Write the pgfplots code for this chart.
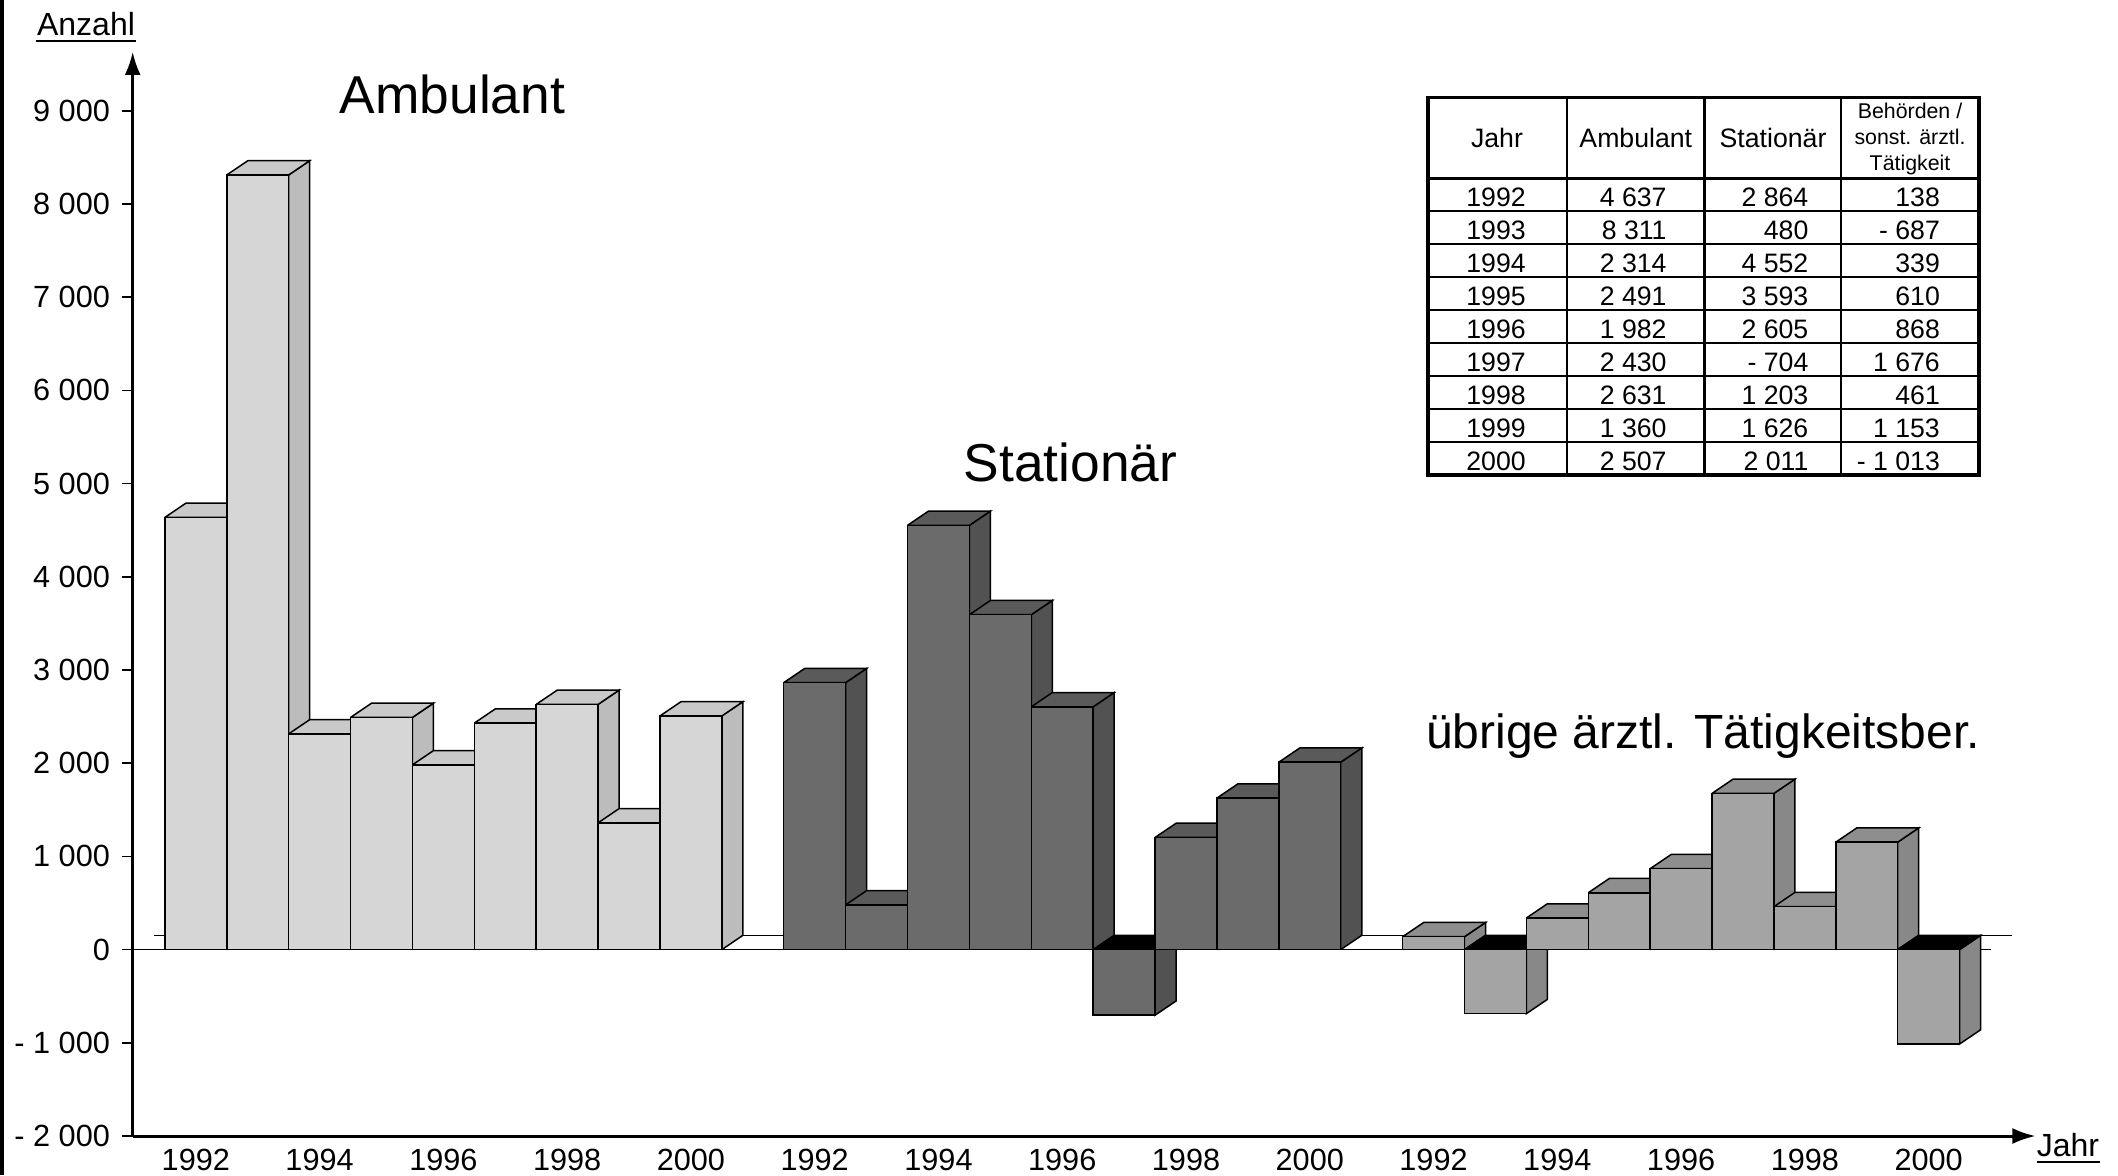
\documentclass[border=0pt]{standalone}
\usepackage{pgfplots}
\pgfplotsset{compat=1.18}
\usepackage{pgfplotstable}
\usetikzlibrary{arrows.meta}
\usepackage{fontspec}
\setmainfont{Liberation Sans}

\definecolor{ambF}{HTML}{D6D6D6}
\definecolor{ambS}{HTML}{BCBCBC}
\definecolor{ambT}{HTML}{C9C9C9}
\definecolor{staF}{HTML}{6B6B6B}
\definecolor{staS}{HTML}{525252}
\definecolor{staT}{HTML}{5A5A5A}
\definecolor{othF}{HTML}{A4A4A4}
\definecolor{othS}{HTML}{888888}
\definecolor{othT}{HTML}{8E8E8E}

% Ambulant
\pgfplotstableread{
x v
0 4637
1 8311
2 2314
3 2491
4 1982
5 2430
6 2631
7 1360
8 2507
}\ambdata
% Stationaer
\pgfplotstableread{
x v
10 2864
11 480
12 4552
13 3593
14 2605
15 -704
16 1203
17 1626
18 2011
}\stadata
% uebrige aerztl. Taetigkeitsber.
\pgfplotstableread{
x v
20 138
21 -687
22 339
23 610
24 868
25 1676
26 461
27 1153
28 -1013
}\othdata

\def\dX{0.34}
\def\dY{153}

\newcommand\threedbar[5]{%
  \pgfmathsetmacro\xa{#1-0.5}%
  \pgfmathsetmacro\xb{#1+0.5}%
  \pgfmathsetmacro\xc{#1+0.5+\dX}%
  \pgfmathsetmacro\xd{#1-0.5+\dX}%
  \pgfmathsetmacro\vv{#2}%
  \pgfmathsetmacro\vt{max(#2,0)}%
  \pgfmathsetmacro\vtb{max(#2,0)+\dY}%
  \pgfmathsetmacro\vb{#2+\dY}%
  \pgfmathtruncatemacro\isneg{(#2<0)?1:0}%
  \ifnum\isneg=1 \def\tc{black}\else\def\tc{#5}\fi
  \edef\doit{%
    \noexpand\addplot[barface, fill=#4] coordinates {(\xb,0) (\xc,\dY) (\xc,\vb) (\xb,\vv) (\xb,0)};
    \noexpand\addplot[barface, fill=\tc] coordinates {(\xa,\vt) (\xb,\vt) (\xc,\vtb) (\xd,\vtb) (\xa,\vt)};
    \noexpand\addplot[barface, fill=#3] coordinates {(\xa,0) (\xb,0) (\xb,\vv) (\xa,\vv) (\xa,0)};
  }\doit
}
\newcommand\drawseries[4]{%
  \pgfplotsforeachungrouped \i in {0,...,8}{%
    \pgfplotstablegetelem{\i}{x}\of#1\let\bx\pgfplotsretval
    \pgfplotstablegetelem{\i}{v}\of#1\let\bv\pgfplotsretval
    \threedbar{\bx}{\bv}{#2}{#3}{#4}%
  }%
}

\begin{document}
\begin{tikzpicture}[>={Latex[length=7pt,width=4.8pt]}]
\begin{axis}[
  at={(39.81pt,-340.8pt)}, anchor=south west,
  scale only axis, width=570.9pt, height=325.3pt,
  xmin=-1.02, xmax=29.73, ymin=-2000, ymax=9634,
  axis lines=left,
  >={Latex[length=7pt,width=4.8pt]},
  axis line style={line width=0.9pt, -{Latex[length=7pt,width=4.8pt]}},
  every outer x axis line/.append style={line width=0.9pt, -{Latex[length=7pt,width=4.8pt]}},
  every outer y axis line/.append style={line width=0.9pt, -{Latex[length=7pt,width=4.8pt]}},
  clip=false,
  xtick={0,2,4,6,8,10,12,14,16,18,20,22,24,26,28},
  xticklabels={1992,1994,1996,1998,2000,1992,1994,1996,1998,2000,1992,1994,1996,1998,2000},
  ytick={-2000,-1000,0,1000,2000,3000,4000,5000,6000,7000,8000,9000},
  yticklabels={- 2 000,- 1 000,0,1 000,2 000,3 000,4 000,5 000,6 000,7 000,8 000,9 000},
  tick label style={font=\fontsize{9.2}{11}\selectfont, black},
  xticklabel style={yshift=1.3pt},
  ytick align=outside,
  major tick length=3.3pt,
  ytick style={line width=0.45pt, black},
  xtick style={draw=none},
  barface/.style={draw=black, line width=0.45pt, mark=none},
]
\addplot[black, line width=0.45pt, mark=none] coordinates {(-1.02,0) (29.0,0)};
\addplot[black, line width=0.45pt, mark=none] coordinates {(-0.68,153) (29.34,153)};
\drawseries{\ambdata}{ambF}{ambS}{ambT}
\drawseries{\stadata}{staF}{staS}{staT}
\drawseries{\othdata}{othF}{othS}{othT}
\end{axis}

\begin{scope}[x=0.3pt, y=-0.3pt]
\fill[black] (0,0) rectangle (4,1175);
% titles
\node[anchor=base, inner sep=0, font=\fontsize{16}{19}\selectfont] at (452.5,113.3) {Ambulant};
\node[anchor=base, inner sep=0, font=\fontsize{16}{19}\selectfont] at (1070.5,481) {Stationär};
\node[anchor=base, inner sep=0, font=\fontsize{14.4}{17}\selectfont] at (1703,748) {übrige ärztl. Tätigkeitsber.};
% axis names
\node[anchor=base, inner sep=0, font=\fontsize{9.6}{11}\selectfont] at (86,35) {Anzahl};
\draw[line width=0.6pt] (36,41) -- (136,41);
\node[anchor=base, inner sep=0, font=\fontsize{9.6}{11}\selectfont] at (2068,1156) {Jahr};
\draw[line width=0.6pt] (2037,1162) -- (2100,1162);
% table
\foreach \yy in {211,244,277,310,343,376,409,442}
  \draw[line width=0.45pt] (1428,\yy) -- (1979,\yy);
\foreach \xx in {1566.9,1704.7,1841.1}
  \draw[line width=0.75pt] (\xx,97.3) -- (\xx,475);
\draw[line width=0.9pt] (1428,178) -- (1979,178);
\draw[line width=1pt] (1428,97.3) rectangle (1979,475);
\begin{scope}[every node/.style={inner sep=0, font=\fontsize{8}{9.6}\selectfont}]
\node[anchor=base] at (1497,147) {Jahr};
\node[anchor=base] at (1635.8,147) {Ambulant};
\node[anchor=base] at (1773,147) {Stationär};
\node[anchor=center, align=center, font=\fontsize{6.4}{7.8}\selectfont] at (1910,139) {Behörden /\\sonst. ärztl.\\Tätigkeit};
\foreach \yr/\a/\s/\o [count=\k from 0] in {1992/4 637/2 864/138, 1993/8 311/480/- 687, 1994/2 314/4 552/339, 1995/2 491/3 593/610, 1996/1 982/2 605/868, 1997/2 430/- 704/1 676, 1998/2 631/1 203/461, 1999/1 360/1 626/1 153, 2000/2 507/2 011/- 1 013}{
  \pgfmathsetmacro\bl{178+33*\k+28}
  \node[anchor=base] at (1496,\bl) {\yr};
  \node[anchor=base east] at (1667.2,\bl) {\a};
  \node[anchor=base east] at (1809,\bl) {\s};
  \node[anchor=base east] at (1940.5,\bl) {\o};
}
\end{scope}
\pgfresetboundingbox
\path[use as bounding box] (0,0) rectangle (2118,1175);
\end{scope}
\end{tikzpicture}
\end{document}
